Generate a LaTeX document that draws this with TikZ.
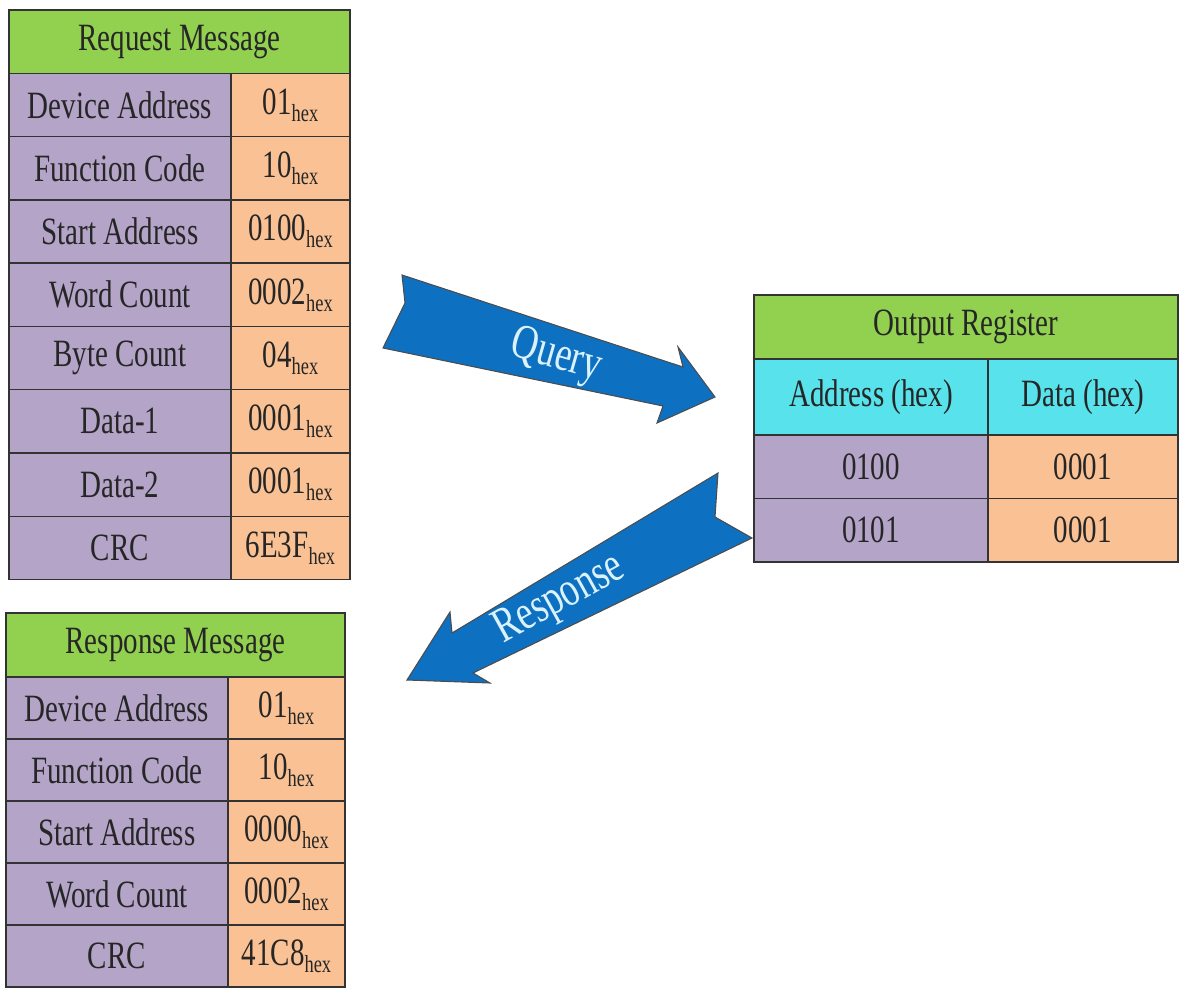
\documentclass[tikz,border=0pt]{standalone}
\usepackage{fontspec}
\setmainfont[FakeStretch=0.75]{Liberation Serif}
\usetikzlibrary{positioning}

\definecolor{headgreen}{RGB}{146,208,80}
\definecolor{lavender}{RGB}{180,164,200}
\definecolor{peach}{RGB}{250,194,148}
\definecolor{skycyan}{RGB}{88,226,236}
\definecolor{arrowblue}{RGB}{14,112,192}
\definecolor{arrowtext}{RGB}{218,242,252}

\tikzstyle{cell} = [rectangle, draw=black!80, line width=0.8pt, outer sep=0pt, inner sep=0pt, text=black!85, font=\fontsize{22}{26}\selectfont]
\tikzstyle{reqhead} = [cell, fill=headgreen, minimum width=6.82cm, minimum height=1.266cm]
\tikzstyle{reqname} = [cell, fill=lavender, minimum width=4.44cm, minimum height=1.266cm]
\tikzstyle{reqval} = [cell, fill=peach, minimum width=2.38cm, minimum height=1.266cm]
\tikzstyle{resphead} = [cell, fill=headgreen, minimum width=6.78cm, minimum height=1.28cm]
\tikzstyle{respname} = [cell, fill=lavender, minimum width=4.44cm, minimum height=1.24cm]
\tikzstyle{respval} = [cell, fill=peach, minimum width=2.34cm, minimum height=1.24cm]
\tikzstyle{bigarrow} = [fill=arrowblue, draw=black!70, line width=0.6pt, line join=miter]
\tikzstyle{arrowlabel} = [text=arrowtext, font=\fontsize{28}{32}\selectfont]

\newcommand{\hx}[1]{#1\raisebox{-4pt}{\fontsize{14}{14}\selectfont hex}}

\begin{document}
\begin{tikzpicture}[x=0.02cm, y=-0.02cm]
    \useasboundingbox (0,0) rectangle (1179,990);

    % request message
    \node (reqtitle) [reqhead, anchor=north west] at (9,10) {Request Message};
    \node (reqdev) [reqname, below=0cm of reqtitle.south west, anchor=north west] {Device Address};
    \node (reqfunc) [reqname, below=0cm of reqdev] {Function Code};
    \node (reqstart) [reqname, below=0cm of reqfunc] {Start Address};
    \node (reqword) [reqname, below=0cm of reqstart] {Word Count};
    \node (reqbyte) [reqname, below=0cm of reqword] {Byte Count};
    \node (reqdataa) [reqname, below=0cm of reqbyte] {Data-1};
    \node (reqdatab) [reqname, below=0cm of reqdataa] {Data-2};
    \node (reqcrc) [reqname, below=0cm of reqdatab] {CRC};
    \node (reqdevval) [reqval, right=0cm of reqdev] {\hx{01}};
    \node (reqfuncval) [reqval, right=0cm of reqfunc] {\hx{10}};
    \node (reqstartval) [reqval, right=0cm of reqstart] {\hx{0100}};
    \node (reqwordval) [reqval, right=0cm of reqword] {\hx{0002}};
    \node (reqbyteval) [reqval, right=0cm of reqbyte] {\hx{04}};
    \node (reqdataaval) [reqval, right=0cm of reqdataa] {\hx{0001}};
    \node (reqdatabval) [reqval, right=0cm of reqdatab] {\hx{0001}};
    \node (reqcrcval) [reqval, right=0cm of reqcrc] {\hx{6E3F}};

    % response message
    \node (resptitle) [resphead, anchor=north west] at (6,613) {Response Message};
    \node (respdev) [respname, below=0cm of resptitle.south west, anchor=north west] {Device Address};
    \node (respfunc) [respname, below=0cm of respdev] {Function Code};
    \node (respstart) [respname, below=0cm of respfunc] {Start Address};
    \node (respword) [respname, below=0cm of respstart] {Word Count};
    \node (respcrc) [respname, below=0cm of respword] {CRC};
    \node (respdevval) [respval, right=0cm of respdev] {\hx{01}};
    \node (respfuncval) [respval, right=0cm of respfunc] {\hx{10}};
    \node (respstartval) [respval, right=0cm of respstart] {\hx{0000}};
    \node (respwordval) [respval, right=0cm of respword] {\hx{0002}};
    \node (respcrcval) [respval, right=0cm of respcrc] {\hx{41C8}};

    % output register
    \node (outtitle) [cell, fill=headgreen, minimum width=8.48cm, minimum height=1.28cm, anchor=north west] at (754,295) {Output Register};
    \node (outaddr) [cell, fill=skycyan, minimum width=4.68cm, minimum height=1.52cm, below=0cm of outtitle.south west, anchor=north west] {Address (hex)};
    \node (outdata) [cell, fill=skycyan, minimum width=3.8cm, minimum height=1.52cm, right=0cm of outaddr] {Data (hex)};
    \node (outaddra) [cell, fill=lavender, minimum width=4.68cm, minimum height=1.27cm, below=0cm of outaddr] {0100};
    \node (outaddrb) [cell, fill=lavender, minimum width=4.68cm, minimum height=1.27cm, below=0cm of outaddra] {0101};
    \node (outdataa) [cell, fill=peach, minimum width=3.8cm, minimum height=1.27cm, right=0cm of outaddra] {0001};
    \node (outdatab) [cell, fill=peach, minimum width=3.8cm, minimum height=1.27cm, right=0cm of outaddrb] {0001};

    % block arrows
    \draw [bigarrow] (402,275) -- (683,367) -- (678,347) -- (715,397) -- (657,423) -- (663,406) -- (383,348) -- (405,303) -- cycle;
    \node (query) [arrowlabel, rotate=-16] at (556,357) {Query};
    \draw [bigarrow] (718,473) -- (452,633) -- (450,612) -- (407,680) -- (490,683) -- (473,673) -- (752,538) -- (715,517) -- cycle;
    \node (response) [arrowlabel, rotate=29] at (560,600) {Response};
\end{tikzpicture}
\end{document}
